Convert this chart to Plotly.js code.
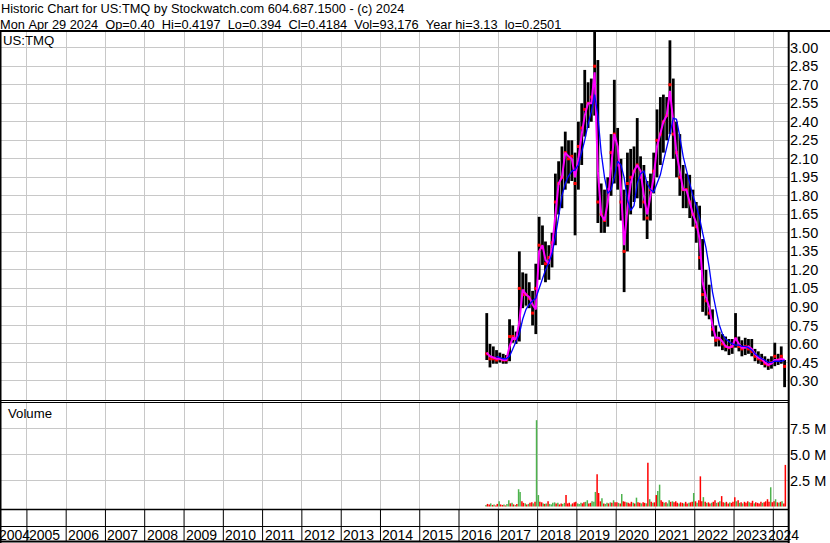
<!DOCTYPE html>
<html><head><meta charset="utf-8">
<script src="https://cdn.plot.ly/plotly-3.0.1.min.js"></script>
<style>html,body{margin:0;padding:0;background:#fff;}#chart{width:830px;height:543px;}</style>
</head><body><div id="chart"></div>
<script>
// ---------------- DATA ----------------
const months = [
 '2016-09','2016-10','2016-11','2016-12',
 '2017-01','2017-02','2017-03','2017-04','2017-05','2017-06','2017-07','2017-08','2017-09','2017-10','2017-11','2017-12',
 '2018-01','2018-02','2018-03','2018-04','2018-05','2018-06','2018-07','2018-08','2018-09','2018-10','2018-11','2018-12',
 '2019-01','2019-02','2019-03','2019-04','2019-05','2019-06','2019-07','2019-08','2019-09','2019-10','2019-11','2019-12',
 '2020-01','2020-02','2020-03','2020-04','2020-05','2020-06','2020-07','2020-08','2020-09','2020-10','2020-11','2020-12',
 '2021-01','2021-02','2021-03','2021-04','2021-05','2021-06','2021-07','2021-08','2021-09','2021-10','2021-11','2021-12',
 '2022-01','2022-02','2022-03','2022-04','2022-05','2022-06','2022-07','2022-08','2022-09','2022-10','2022-11','2022-12',
 '2023-01','2023-02','2023-03','2023-04','2023-05','2023-06','2023-07','2023-08','2023-09','2023-10','2023-11','2023-12',
 '2024-01','2024-02','2024-03','2024-04'
];
const priceHigh = [
 0.85,0.60,0.58,0.55,
 0.53,0.52,0.51,0.80,0.75,0.70,1.35,1.18,1.17,1.10,1.03,1.25,
 1.63,1.56,1.43,1.40,1.50,1.98,2.08,2.20,2.32,2.25,2.25,2.15,
 2.40,2.55,2.82,2.72,2.75,3.13,2.90,1.90,1.85,1.95,2.30,2.74,
 2.35,2.10,1.85,2.15,2.18,2.20,2.43,2.12,2.05,1.92,1.98,2.15,
 2.50,2.60,2.62,2.60,3.06,2.75,2.40,2.30,2.05,1.98,1.97,1.85,
 1.75,1.72,1.45,1.20,1.08,0.88,0.75,0.70,0.68,0.66,0.64,0.64,
 0.85,0.66,0.63,0.65,0.64,0.64,0.56,0.54,0.52,0.50,0.48,0.50,
 0.61,0.52,0.58,0.47
];
const priceLow = [
 0.47,0.41,0.44,0.44,
 0.45,0.44,0.44,0.46,0.61,0.60,0.62,0.89,0.91,0.89,0.75,0.68,
 1.12,1.24,1.10,1.12,1.22,1.40,1.65,1.70,1.85,1.90,1.92,1.48,
 1.85,2.05,2.28,2.35,2.40,2.45,1.58,1.50,1.50,1.55,1.80,1.90,
 1.85,1.60,1.02,1.35,1.65,1.75,1.78,1.70,1.60,1.45,1.60,1.82,
 1.95,2.05,2.15,2.25,2.30,2.10,1.95,1.80,1.70,1.70,1.62,1.55,
 1.42,1.20,0.86,0.83,0.80,0.66,0.58,0.58,0.55,0.54,0.51,0.52,
 0.57,0.54,0.50,0.51,0.52,0.50,0.46,0.44,0.43,0.41,0.39,0.40,
 0.42,0.43,0.44,0.25
];
const priceClose = [
 0.52,0.48,0.48,0.47,
 0.48,0.47,0.47,0.66,0.66,0.64,1.05,1.00,1.00,0.97,0.85,1.05,
 1.40,1.38,1.25,1.30,1.42,1.75,1.90,1.95,2.15,2.10,2.12,1.90,
 2.20,2.35,2.50,2.55,2.60,2.85,1.75,1.65,1.60,1.85,2.15,2.30,
 2.05,1.75,1.35,1.90,1.95,2.00,2.05,1.95,1.75,1.62,1.85,2.00,
 2.25,2.30,2.40,2.45,2.70,2.30,2.15,1.95,1.85,1.85,1.75,1.65,
 1.55,1.30,1.00,0.95,0.85,0.72,0.63,0.64,0.60,0.58,0.57,0.58,
 0.64,0.58,0.56,0.58,0.56,0.54,0.50,0.48,0.47,0.44,0.43,0.45,
 0.50,0.47,0.50,0.4184
];
const maShort = [
 0.53,0.50,0.49,0.48,
 0.48,0.47,0.47,0.58,0.65,0.64,0.78,1.04,1.00,0.98,0.92,0.88,
 1.35,1.40,1.28,1.25,1.38,1.65,1.90,1.95,2.15,2.12,2.10,1.95,
 2.10,2.30,2.45,2.55,2.55,2.80,2.00,1.65,1.60,1.75,2.05,2.30,
 2.20,1.85,1.40,1.70,1.90,2.00,2.05,2.00,1.80,1.65,1.80,1.95,
 2.20,2.30,2.40,2.45,2.65,2.40,2.15,2.00,1.85,1.85,1.75,1.65,
 1.58,1.45,1.10,0.98,0.90,0.75,0.65,0.65,0.62,0.58,0.57,0.58,
 0.65,0.60,0.57,0.57,0.58,0.56,0.52,0.49,0.48,0.45,0.43,0.44,
 0.47,0.47,0.48,0.47
];
const maLong = [
 null,null,null,0.50,
 0.49,0.48,0.48,0.50,0.56,0.62,0.68,0.80,0.88,0.92,0.95,0.97,
 1.05,1.12,1.20,1.26,1.33,1.47,1.65,1.80,1.90,1.96,2.00,2.01,
 2.05,2.15,2.25,2.38,2.48,2.62,2.45,2.15,1.95,1.82,1.85,1.95,
 2.08,2.05,1.95,1.77,1.68,1.72,1.90,1.98,2.00,1.90,1.85,1.83,
 1.90,1.97,2.08,2.18,2.30,2.43,2.42,2.28,2.12,2.01,1.90,1.80,
 1.72,1.62,1.50,1.38,1.22,1.02,0.89,0.76,0.68,0.64,0.62,0.60,
 0.59,0.59,0.58,0.58,0.57,0.55,0.52,0.50,0.48,0.47,0.45,0.45,
 0.46,0.46,0.46,0.47
];
// volume (millions): two entries per month (first half, second half), same order as months
const volume = [
 0.15,0.25, 0.20,0.30, 0.15,0.20, 0.10,0.25,
 0.50,0.20, 0.15,0.20, 0.10,0.25, 0.60,0.30, 0.35,0.20, 0.15,0.25, 1.66,1.40, 0.50,0.35, 0.30,0.20, 0.25,0.35, 0.40,0.30, 0.45,8.30,
 1.10,0.45, 0.40,0.30, 0.25,0.30, 0.50,0.25, 0.20,0.35, 0.40,0.30, 0.35,0.20, 0.30,0.25, 0.35,1.10, 0.30,0.35, 0.20,0.30, 0.40,0.45,
 0.30,0.25, 0.35,0.30, 0.40,0.45, 0.60,0.30, 0.35,0.50, 0.45,1.40, 3.10,1.30, 0.50,0.80, 0.30,0.25, 0.35,0.30, 0.40,0.35, 0.60,0.40,
 0.40,0.35, 0.30,1.20, 0.50,0.45, 0.40,0.35, 0.30,0.45, 0.35,0.30, 0.85,0.40, 0.35,0.30, 0.40,0.35, 0.30,4.20, 0.70,0.45, 0.35,0.40,
 1.10,1.50, 2.10,0.60, 0.45,0.35, 0.40,0.30, 0.60,0.45, 0.50,0.40, 0.50,0.35, 0.30,0.40, 0.35,0.30, 0.45,0.30, 0.35,0.40, 0.45,1.30,
 0.50,0.35, 0.60,2.90, 0.50,0.90, 0.45,0.35, 0.40,0.30, 0.35,0.45, 0.60,0.35, 0.40,0.50, 1.00,0.40, 0.35,0.45, 0.30,0.40, 0.35,0.45,
 0.90,0.50, 0.60,0.35, 0.40,0.30, 0.45,0.35, 0.50,0.40, 0.35,0.55, 0.30,0.40, 0.35,0.30, 0.45,0.35, 0.40,0.50, 0.70,0.45, 1.85,0.40,
 0.50,0.70, 0.40,0.35, 0.45,0.50, 0.30,4.00
];
// g = up (green), r = down (red)
const volumeDir = [
 'g','r','r','g','r','g','r','r',
 'g','r','r','g','r','g','g','r','g','r','g','r','g','g','r','r','g','r','g','r','r','g','r','g',
 'g','r','r','g','r','g','r','g','g','g','g','r','g','r','r','g','g','r','r','r','g','r','r','r',
 'g','g','g','r','r','g','g','r','r','g','g','g','r','r','r','g','r','g','g','r','g','r','g','r',
 'r','g','r','g','r','r','g','r','r','r','g','r','g','r','r','g','r','r','g','r','g','r','g','r',
 'r','g','g','r','r','g','r','g','g','r','g','r','r','r','g','r','r','g','r','r','g','r','r','g',
 'r','g','r','r','r','g','r','g','r','r','g','r','r','g','r','g','r','r','g','r','r','g','r','r',
 'r','g','r','g','r','g','r','r','r','g','r','r','g','r','r','r','r','g','r','r','r','r','g','r',
 'r','g','r','g','r','g','r','r'
];
const yearLabels = ['2004','2005','2006','2007','2008','2009','2010','2011','2012','2013','2014',
                    '2015','2016','2017','2018','2019','2020','2021','2022','2023','2024'];
const priceTicks = [0.30,0.45,0.60,0.75,0.90,1.05,1.20,1.35,1.50,1.65,1.80,1.95,2.10,2.25,2.40,2.55,2.70,2.85,3.00];
const priceTickText = ['0.30','0.45','0.60','0.75','0.90','1.05','1.20','1.35','1.50','1.65','1.80','1.95','2.10','2.25','2.40','2.55','2.70','2.85','3.00'];
const volTicks = [2.5,5.0,7.5];
const volTickText = ['2.5 M','5.0 M','7.5 M'];
const headerLine1 = 'Historic Chart for US:TMQ by Stockwatch.com 604.687.1500 - (c) 2024';
const headerLine2 = 'Mon Apr 29 2024  Op=0.40  Hi=0.4197  Lo=0.394  Cl=0.4184  Vol=93,176  Year hi=3.13  lo=0.2501';
const symbolLabel = 'US:TMQ';
const volumeLabel = 'Volume';

// ---------------- LAYOUT HELPERS ----------------
const FONT = '"Liberation Sans Narrow","Arial Narrow","Liberation Sans",Arial,sans-serif';
const W = 830, H = 543, ML = 1, MR = 41, MT = 31, MB = 34;
const PW = W - ML - MR, PH = H - MT - MB;
const px = X => (X - ML) / PW;
const py = Y => (H - MB - Y) / PH;
const DAY = 86400000;
const GREEN = '#4db34d', RED = '#ff0000', GRID = '#c8c8c8';

const priceDates = months.map(m => m + '-15');
const volDates = [];
months.forEach(m => { volDates.push(m + '-08'); volDates.push(m + '-22'); });
const yearDates = yearLabels.slice(1).map(y => y + '-01-01');

const traces = [
  {type:'bar', x: priceDates, y: priceHigh.map((h,i) => h - priceLow[i]), base: priceLow,
   width: 26*DAY, marker:{color:'#000000', line:{width:0}}, xaxis:'x', yaxis:'y', hoverinfo:'skip'},
  {type:'scatter', mode:'markers', x: priceDates, y: priceClose,
   marker:{symbol:'square', size:3, color:RED, line:{width:0}}, xaxis:'x', yaxis:'y', hoverinfo:'skip'},
  {type:'scatter', mode:'lines', x: priceDates, y: maShort, line:{color:'#ff00ff', width:2},
   xaxis:'x', yaxis:'y', hoverinfo:'skip'},
  {type:'scatter', mode:'lines', x: priceDates, y: maLong, line:{color:'#0000ff', width:1.3},
   connectgaps:false, xaxis:'x', yaxis:'y', hoverinfo:'skip'},
  {type:'bar', x: volDates, y: volume, width: 14*DAY,
   marker:{color: volumeDir.map(d => d === 'g' ? GREEN : RED), line:{width:0}},
   xaxis:'x', yaxis:'y2', hoverinfo:'skip'}
];

const shapes = [];
function hline(Y, X0, X1, w){ shapes.push({type:'line', xref:'paper', yref:'paper', x0:px(X0), x1:px(X1), y0:py(Y), y1:py(Y), line:{color:'#000', width:w}}); }
function vline(X, Y0, Y1, w){ shapes.push({type:'line', xref:'paper', yref:'paper', x0:px(X), x1:px(X), y0:py(Y0), y1:py(Y1), line:{color:'#000', width:w}}); }
hline(31, 0, 830, 2);
hline(400.5, 0, 789, 1);
hline(402.5, 0, 789, 1);
hline(509.5, 0, 789, 1.5);
hline(526.5, 0, 789, 1);
hline(541.5, 0, 789, 2);
vline(0.5, 31, 543, 2);
vline(788.7, 31, 543, 2);
yearDates.forEach(d => shapes.push({type:'line', xref:'x', yref:'paper', x0:d, x1:d, y0:py(509), y1:py(542), line:{color:'#000', width:1}}));

const ann = [];
const hf = {family:FONT, size:12.8, color:'#000'};
const lf = {family:FONT, size:13.2, color:'#000'};
const tf = {family:FONT, size:14.5, color:'#000'};
const yf = {family:FONT, size:14, color:'#000'};
ann.push({xref:'paper', yref:'paper', x:px(0), y:py(0.3), xanchor:'left', yanchor:'top', borderpad:0, text:headerLine1.replace(/ /g,'\u00a0'), showarrow:false, font:hf});
ann.push({xref:'paper', yref:'paper', x:px(-1), y:py(15.9), xanchor:'left', yanchor:'top', borderpad:0, text:headerLine2.replace(/ /g,'\u00a0'), showarrow:false, font:hf});
ann.push({xref:'paper', yref:'paper', x:px(2), y:py(32.5), xanchor:'left', yanchor:'top', borderpad:0, text:symbolLabel, showarrow:false, font:lf});
ann.push({xref:'paper', yref:'paper', x:px(6.5), y:py(404.5), xanchor:'left', yanchor:'top', borderpad:0, text:volumeLabel, showarrow:false, font:lf});
yearLabels.forEach((y, i) => {
  if (i === 0) {
    ann.push({xref:'paper', yref:'paper', x:px(-1), y:py(526.6), xanchor:'left', yanchor:'top', borderpad:0, borderwidth:0, text:y, showarrow:false, font:yf});
  } else if (i === yearLabels.length - 1) {
    ann.push({xref:'paper', yref:'paper', x:px(799), y:py(526.6), xanchor:'right', yanchor:'top', borderpad:0, borderwidth:0, text:y, showarrow:false, font:yf});
  } else {
    ann.push({xref:'x', yref:'paper', x:y + '-01-01', y:py(526.6), xanchor:'left', yanchor:'top', borderpad:0, borderwidth:0, xshift:2, text:y, showarrow:false, font:yf});
  }
});

const layout = {
  width:W, height:H, margin:{l:ML, r:MR, t:MT, b:MB, pad:0},
  paper_bgcolor:'#ffffff', plot_bgcolor:'#ffffff', showlegend:false, barmode:'overlay',
  font:{family:FONT, size:14.5, color:'#000'},
  xaxis:{type:'date', range:['2004-05-05','2024-05-26'], tickvals:yearDates, showticklabels:false, ticks:'',
         showgrid:true, gridcolor:GRID, gridwidth:1, zeroline:false, showline:false, anchor:'y2', fixedrange:true},
  yaxis:{domain:[py(400), 1], range:[0.146, 3.1353], side:'right', anchor:'x', tickmode:'array', tickvals:priceTicks, ticktext:priceTickText,
         showgrid:true, gridcolor:GRID, gridwidth:1, zeroline:false, showline:false, ticks:'', tickfont:tf, fixedrange:true},
  yaxis2:{domain:[0, py(403)], range:[-0.24, 9.952], side:'right', anchor:'x', tickmode:'array', tickvals:volTicks, ticktext:volTickText,
         showgrid:true, gridcolor:GRID, gridwidth:1, zeroline:false, showline:false, ticks:'', tickfont:tf, fixedrange:true},
  shapes: shapes, annotations: ann
};
Plotly.newPlot('chart', traces, layout, {staticPlot:true, displayModeBar:false});
</script></body></html>
